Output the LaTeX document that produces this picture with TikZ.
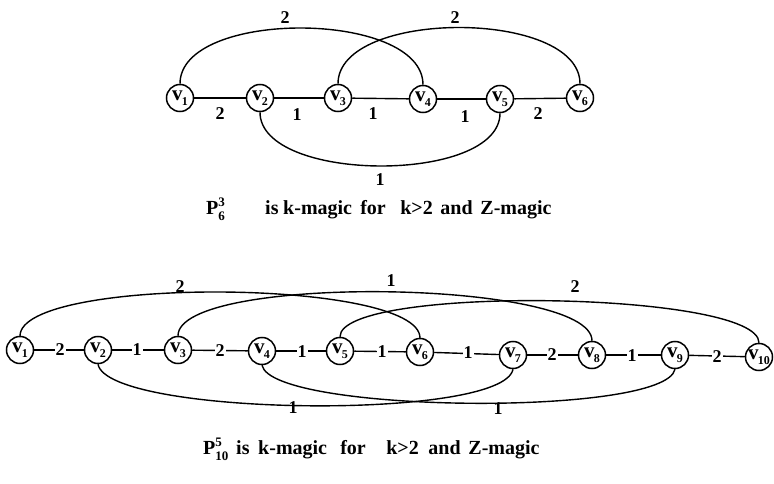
\documentclass[tikz,border=0pt]{standalone}
\usepackage{fontspec}
\setmainfont{Liberation Serif}
\newcommand{\vlab}[1]{v\kern-0.8pt\raisebox{-5pt}{\fontsize{12}{12}\selectfont #1}}
\begin{document}
\begin{tikzpicture}[x=1pt,y=-1pt,
  vert/.style={circle,draw,line width=1.5pt,minimum size=27pt,inner sep=0pt,fill=white,font=\bfseries\fontsize{21}{21}\selectfont},
  el/.style={font=\bfseries\fontsize{18}{18}\selectfont,inner sep=1pt},
  elw/.style={el,fill=white},
  edge/.style={line width=1.4pt},
  captext/.style={font=\bfseries\fontsize{20}{20}\selectfont,inner sep=0pt}
]
\useasboundingbox (0,0) rectangle (774,484);
% ---------- top graph ----------
\node[vert] (a1) at (180,98) {\vlab{1}};
\node[vert] (a2) at (260,98) {\vlab{2}};
\node[vert] (a3) at (338,98) {\vlab{3}};
\node[vert] (a4) at (423,99) {\vlab{4}};
\node[vert] (a5) at (500,99) {\vlab{5}};
\node[vert] (a6) at (580,98) {\vlab{6}};
\draw[edge] (a1) -- (a2);
\draw[edge] (a2) -- (a3);
\draw[edge] (a3) -- (a4);
\draw[edge] (a4) -- (a5);
\draw[edge] (a5) -- (a6);
\node[el] (la12) at (220,114) {2};
\node[el] (la23) at (297,115) {1};
\node[el] (la34) at (373,114) {1};
\node[el] (la45) at (465,117) {1};
\node[el] (la56) at (538,114) {2};
\draw[edge] (a1.north) .. controls +(0,-75) and +(0,-75) .. (a4.north);
\draw[edge] (a3.north) .. controls +(0,-75) and +(0,-75) .. (a6.north);
\draw[edge] (a2.south) .. controls +(0,71) and +(0,71) .. (a5.south);
\node[el] (la14) at (285,18) {2};
\node[el] (la36) at (455,18) {2};
\node[el] (la25) at (380,180) {1};
\node[captext,anchor=base west] (c1p) at (206,214) {P\rlap{\raisebox{8pt}{\fontsize{13}{13}\selectfont 3}}\raisebox{-6pt}{\fontsize{13}{13}\selectfont 6}};
\node[captext,anchor=base west] (c1) at (265,214) {is\hspace{4.7pt}k-magic\hspace{8.2pt}for\hspace{14.5pt}k>2\hspace{7.5pt}and\hspace{7.8pt}Z-magic};
% ---------- bottom graph ----------
\coordinate (b1top) at (20,336);
\coordinate (b6top) at (420,338);
\draw[edge] (b1top) .. controls +(0,-60) and +(0,-60) .. (b6top);
\node[vert] (b1) at (20,350) {\vlab{1}};
\node[vert] (b2) at (98,350) {\vlab{2}};
\node[vert] (b3) at (178,350) {\vlab{3}};
\node[vert] (b4) at (262,351) {\vlab{4}};
\node[vert] (b5) at (340,351) {\vlab{5}};
\node[vert] (b6) at (420,352) {\vlab{6}};
\node[vert] (b7) at (513,355) {\vlab{7}};
\node[vert] (b8) at (592,355) {\vlab{8}};
\node[vert] (b9) at (675,355) {\vlab{9}};
\node[vert] (b10) at (759,357) {\vlab{10}};
\draw[edge] (b1) -- (b2);
\draw[edge] (b2) -- (b3);
\draw[edge] (b3) -- (b4);
\draw[edge] (b4) -- (b5);
\draw[edge] (b5) -- (b6);
\draw[edge] (b6) -- (b7);
\draw[edge] (b7) -- (b8);
\draw[edge] (b8) -- (b9);
\draw[edge] (b9) -- (b10);
\node[elw] (lb12) at (60,350) {2};
\node[elw] (lb23) at (137,350) {1};
\node[elw] (lb34) at (220,351) {2};
\node[elw] (lb45) at (302,352) {1};
\node[elw] (lb56) at (382,352) {1};
\node[elw] (lb67) at (468,353) {1};
\node[elw] (lb78) at (552,355) {2};
\node[elw] (lb89) at (632,356) {1};
\node[elw] (lb910) at (717,357) {2};
\draw[edge] (b3.north) .. controls +(0,-62) and +(0,-62) .. (b8.north);
\draw[edge] (b5.north) .. controls +(0,-52) and +(0,-52) .. (b10.north);
\draw[edge] (b2.south) .. controls +(10,52) and +(-10,52) .. (b7.south);
\draw[edge] (b4.south) .. controls +(10,48) and +(-10,48) .. (b9.south);
\node[el] (lb16) at (180,287) {2};
\node[el] (lb38) at (391,281) {1};
\node[el] (lb510) at (575,287) {2};
\node[el] (lb27) at (293,408) {1};
\node[el] (lb49) at (498,409) {1};
\node[captext,anchor=base west] (c2p) at (203,454) {P\rlap{\raisebox{8pt}{\fontsize{13}{13}\selectfont 5}}\raisebox{-6pt}{\fontsize{13}{13}\selectfont 10}};
\node[captext,anchor=base west] (c2) at (236,454) {is\hspace{8.7pt}k-magic\hspace{13.2pt}for\hspace{20.5pt}k>2\hspace{9.5pt}and\hspace{7.8pt}Z-magic};
\end{tikzpicture}
\end{document}
